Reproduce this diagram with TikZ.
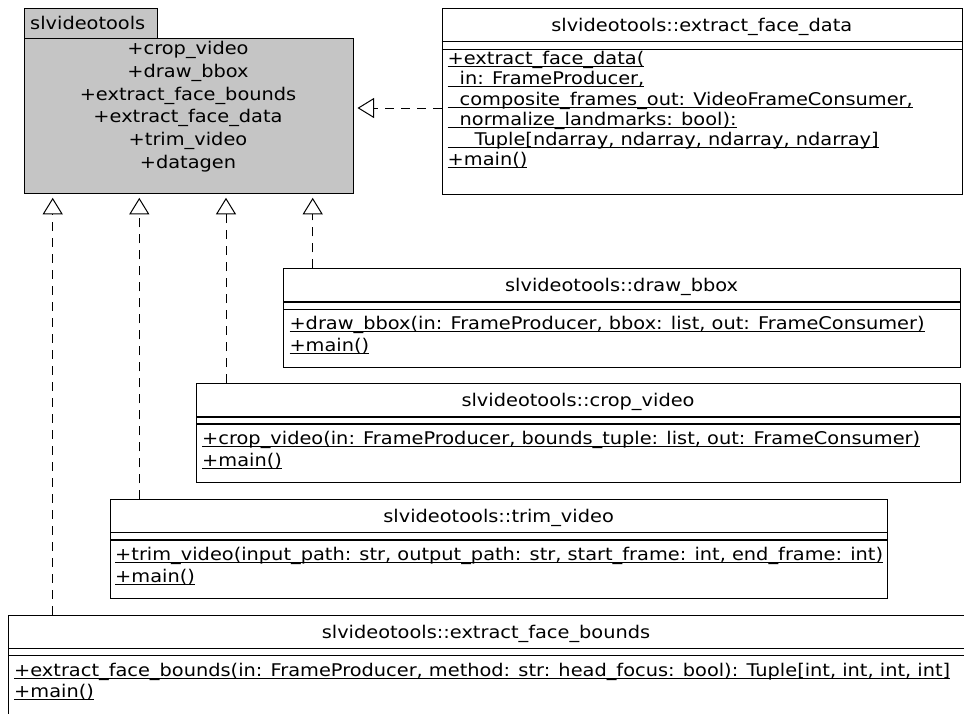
\documentclass[tikz,border=0pt]{standalone}
\usepackage{fontspec}
\setmainfont{DejaVu Sans}[FakeStretch=1.106]
\usetikzlibrary{arrows.meta}
\definecolor{pkggray}{RGB}{197,197,197}
\newsavebox\ulbox
\newcommand\ulx[1]{\sbox\ulbox{#1}\rlap{\rule[-2.4pt]{\wd\ulbox}{0.9pt}}\usebox\ulbox}
\begin{document}
\begin{tikzpicture}[x=1pt,y=-1pt,
  font=\fontsize{17.5}{21}\selectfont,
  boxline/.style={draw=black, line width=1.1pt},
  umlbox/.style={boxline, fill=white, rectangle, inner sep=0pt, anchor=north west},
  pkgbox/.style={boxline, fill=pkggray, rectangle, inner sep=0pt, anchor=north west},
  ttl/.style={anchor=base, inner sep=0pt},
  mth/.style={anchor=base west, inner sep=0pt},
  realize/.style={dash pattern=on 9pt off 7pt, line width=1pt,
    -{Triangle[open, length=16.5pt, width=20pt, line width=1pt]}, shorten >=3.4pt}]
\clip (0,0) rectangle (964,713);
\fill[white] (0,0) rectangle (964,713);

% package
\node[pkgbox, minimum width=133pt, minimum height=30pt] (pkgtab) at (23.5,8.3) {};
\node[pkgbox, minimum width=329.5pt, minimum height=155pt] (pkg) at (23.5,38.3) {};
\node[mth] (pkgname) at (30,29.5) {slvideotools};
\node[ttl] (p1) at (188,54) {+crop\_video};
\node[ttl] (p2) at (188,77) {+draw\_bbox};
\node[ttl] (p3) at (188,100) {+extract\_face\_bounds};
\node[ttl] (p4) at (188,122.5) {+extract\_face\_data};
\node[ttl] (p5) at (188,145.5) {+trim\_video};
\node[ttl] (p6) at (188,168) {+datagen};

% extract_face_data
\node[umlbox, minimum width=520.5pt, minimum height=185.7pt] (efd) at (441.5,8.3) {};
\draw[boxline] (efd.west |- 0,41.7) -- (efd.east |- 0,41.7);
\draw[boxline] (efd.west |- 0,49.3) -- (efd.east |- 0,49.3);
\node[ttl] (efdt) at (701.75,31.8) {slvideotools::extract\_face\_data};
\node[mth] (efd1) at (447.5,64.5) {\ulx{+extract\_face\_data(}};
\node[mth] (efd2) at (447.5,84.8) {\ulx{\hspace*{12pt}in: FrameProducer,}};
\node[mth] (efd3) at (447.5,105) {\ulx{\hspace*{12pt}composite\_frames\_out: VideoFrameConsumer,}};
\node[mth] (efd4) at (447.5,125) {\ulx{\hspace*{12pt}normalize\_landmarks: bool):}};
\node[mth] (efd5) at (447.5,145) {\ulx{\hspace*{27pt}Tuple[ndarray, ndarray, ndarray, ndarray]}};
\node[mth] (efd6) at (447.5,165.5) {\ulx{+main()}};

% draw_bbox
\node[umlbox, minimum width=676.7pt, minimum height=98.4pt] (dbb) at (283.3,268.3) {};
\draw[boxline] (dbb.west |- 0,302) -- (dbb.east |- 0,302);
\draw[boxline] (dbb.west |- 0,309.3) -- (dbb.east |- 0,309.3);
\node[ttl] (dbbt) at (621.6,291.8) {slvideotools::draw\_bbox};
\node[mth] (dbb1) at (289.3,329.5) {\ulx{+draw\_bbox(in: FrameProducer, bbox: list, out: FrameConsumer)}};
\node[mth] (dbb2) at (289.3,351) {\ulx{+main()}};

% crop_video
\node[umlbox, minimum width=764pt, minimum height=98.7pt] (crop) at (196,383) {};
\draw[boxline] (crop.west |- 0,417) -- (crop.east |- 0,417);
\draw[boxline] (crop.west |- 0,424) -- (crop.east |- 0,424);
\node[ttl] (cropt) at (578,406.5) {slvideotools::crop\_video};
\node[mth] (crop1) at (202,444.5) {\ulx{+crop\_video(in: FrameProducer, bounds\_tuple: list, out: FrameConsumer)}};
\node[mth] (crop2) at (202,466) {\ulx{+main()}};

% trim_video
\node[umlbox, minimum width=777.3pt, minimum height=98.2pt] (trim) at (110,499.3) {};
\draw[boxline] (trim.west |- 0,532.7) -- (trim.east |- 0,532.7);
\draw[boxline] (trim.west |- 0,540) -- (trim.east |- 0,540);
\node[ttl] (trimt) at (498.6,522.8) {slvideotools::trim\_video};
\node[mth] (trim1) at (115,560.5) {\ulx{+trim\_video(input\_path: str, output\_path: str, start\_frame: int, end\_frame: int)}};
\node[mth] (trim2) at (115,582) {\ulx{+main()}};

% extract_face_bounds
\node[umlbox, minimum width=992pt, minimum height=150pt] (efb) at (8,614.5) {};
\draw[boxline] (efb.west |- 0,648.3) -- (efb.east |- 0,648.3);
\draw[boxline] (efb.west |- 0,655.7) -- (efb.east |- 0,655.7);
\node[ttl] (efbt) at (486,638) {slvideotools::extract\_face\_bounds};
\node[mth] (efb1) at (14,676) {\ulx{+extract\_face\_bounds(in: FrameProducer, method: str: head\_focus: bool): Tuple[int, int, int, int]}};
\node[mth] (efb2) at (14,697.5) {\ulx{+main()}};

% realizations
\draw[realize] (efd.west |- 0,108) -- (pkg.east |- 0,108);
\draw[realize] (dbb.north -| 312.7,0) -- (pkg.south -| 312.7,0);
\draw[realize] (crop.north -| 226,0) -- (pkg.south -| 226,0);
\draw[realize] (trim.north -| 139.3,0) -- (pkg.south -| 139.3,0);
\draw[realize] (efb.north -| 52.7,0) -- (pkg.south -| 52.7,0);
\end{tikzpicture}
\end{document}
